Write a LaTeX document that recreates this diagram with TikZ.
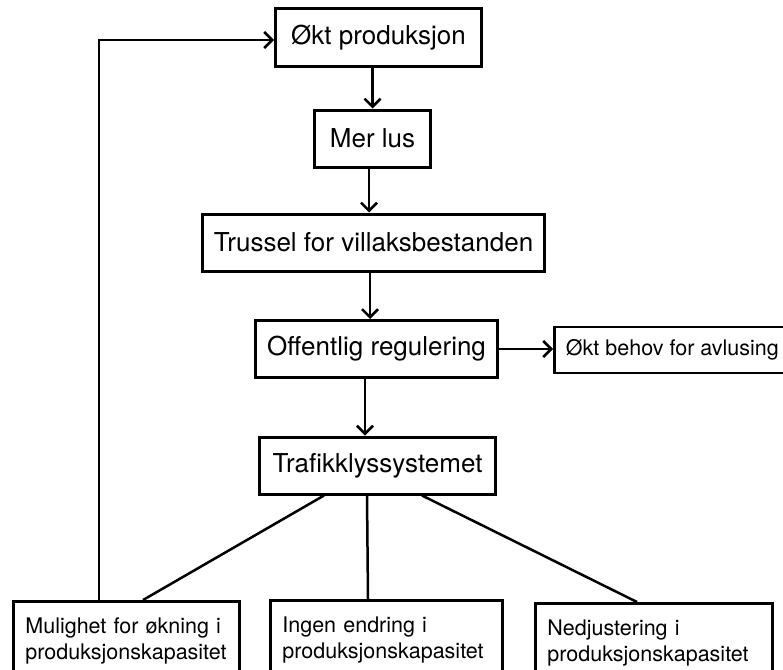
\documentclass[tikz,border=0pt]{standalone}
\usepackage{fontspec}
\setmainfont{TeX Gyre Heros}
\usepackage{tikz}
\usetikzlibrary{arrows.meta,calc}

\begin{document}
\begin{tikzpicture}[
  x=1pt, y=-1pt,
  box/.style={draw, line width=3pt, minimum height=57pt, align=center, font=\fontsize{26}{31}\selectfont},
  smallbox/.style={draw, line width=2.8pt, minimum height=46pt, align=center, font=\fontsize{21.5}{26}\selectfont},
  outbox/.style={draw, line width=2.8pt, anchor=north west, align=left, inner xsep=12pt, minimum height=80pt, font=\fontsize{21.5}{26}\selectfont},
  arr/.style={-{Straight Barb[length=8pt,width=16pt,line width=2.5pt]}, line width=2.5pt},
  link/.style={line width=2.5pt}
]
\useasboundingbox (0,0) rectangle (783,669);
\node[box, minimum width=206pt] (okt) at (378.5,37.5) {Økt produksjon};
\node[box, minimum width=116pt] (lus) at (372.5,138.5) {Mer lus};
\node[box, minimum width=342pt] (trussel) at (373.5,242.5) {Trussel for villaksbestanden};
\node[box, minimum width=242pt] (regul) at (376.5,349) {Offentlig regulering};
\node[smallbox, anchor=west, minimum width=236pt] (behov) at (553,350) {Økt behov for avlusing};
\node[box, minimum width=236pt] (trafikk) at (377.5,465.5) {Trafikklyssystemet};
\node[outbox, text width=202pt] (okning) at (12,600) {Mulighet for økning i\\produksjonskapasitet};
\node[outbox, text width=208pt] (ingen) at (269,599) {Ingen endring i\\produksjonskapasitet};
\node[outbox, text width=213pt] (ned) at (534,602) {Nedjustering i\\produksjonskapasitet};
\coordinate (c1) at ($(lus.south)+(-3.5,0)$);
\coordinate (c2) at ($(trussel.south)+(-3.5,0)$);
\coordinate (c3) at ($(regul.south)+(-11.5,0)$);
\draw[arr] (okt.south -| lus.north) -- (lus.north);
\draw[arr] (c1) -- (c1 |- trussel.north);
\draw[arr] (c2) -- (c2 |- regul.north);
\draw[arr] (c3) -- (c3 |- trafikk.north);
\draw[arr] (regul.east) -- (regul.east -| behov.west);
\draw[link] ($(trafikk.south west)+(66,0)$) -- ($(okning.north west)+(131,0)$);
\draw[link] ($(trafikk.south)+(-10.5,0)$) -- ($(ingen.north west)+(99,0)$);
\draw[link] ($(trafikk.south west)+(164,0)$) -- ($(ned.north west)+(103,0)$);
\draw[arr] ($(okning.north west)+(87,0)$) |- ($(okt.west)+(0,2.5)$);
\end{tikzpicture}
\end{document}
